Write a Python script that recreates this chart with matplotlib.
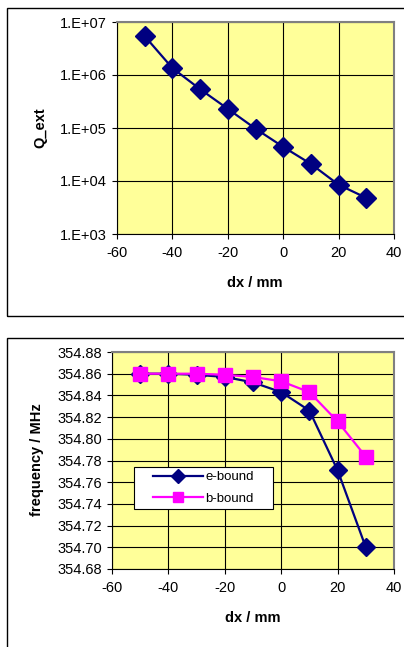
import matplotlib
matplotlib.use("Agg")
import matplotlib.pyplot as plt
from matplotlib.patches import Rectangle
from matplotlib.ticker import FixedLocator, FuncFormatter

plt.rcParams['font.family'] = ['Liberation Sans', 'DejaVu Sans']
plt.rcParams['axes.unicode_minus'] = False

dx = [-50, -40, -30, -20, -10, 0, 10, 20, 30]
q_ext = [5.4e6, 1.35e6, 5.4e5, 2.3e5, 9.7e4, 4.4e4, 2.1e4, 8.5e3, 4.8e3]
e_bound = [354.860, 354.860, 354.859, 354.857, 354.852, 354.843, 354.826, 354.771, 354.700]
b_bound = [354.860, 354.860, 354.860, 354.859, 354.857, 354.853, 354.843, 354.816, 354.7835]
q_ticks = [1e3, 1e4, 1e5, 1e6, 1e7]
q_tick_labels = ['1.E+03', '1.E+04', '1.E+05', '1.E+06', '1.E+07']

W, H = 404, 647
fig = plt.figure(figsize=(W / 100, H / 100), dpi=100)

def fx(px):
    return px / W

def fy(py):
    return 1 - py / H

# outer chart borders
fig.patches.append(Rectangle((fx(7), fy(316)), fx(420) - fx(7), fy(8) - fy(316),
                             transform=fig.transFigure, fill=False, edgecolor='black', lw=1.0))
fig.patches.append(Rectangle((fx(7), fy(660)), fx(420) - fx(7), fy(338) - fy(660),
                             transform=fig.transFigure, fill=False, edgecolor='black', lw=1.0))

navy = '#000080'
magenta = '#FF00FF'
bg = '#FFFF99'
TS = 10.5

def style(ax):
    ax.set_facecolor(bg)
    ax.grid(True, color='black', lw=0.8)
    ax.set_axisbelow(True)
    for s in ['top', 'right']:
        ax.spines[s].set_color('#808080')
        ax.spines[s].set_linewidth(1.5)
    for s in ['left', 'bottom']:
        ax.spines[s].set_color('black')
        ax.spines[s].set_linewidth(0.8)
    ax.tick_params(direction='out', length=3.6, width=0.8, labelsize=TS)
    ax.tick_params(axis='x', pad=5)
    ax.tick_params(axis='y', pad=3.5)
    ax.set_xlim(-60, 40)
    ax.set_xticks([-60, -40, -20, 0, 20, 40])

# top chart
ax1 = fig.add_axes([fx(117), fy(234), fx(394) - fx(117), fy(22) - fy(234)])
style(ax1)
ax1.set_yscale('log')
ax1.set_ylim(1e3, 1e7)
ax1.yaxis.set_major_locator(FixedLocator(q_ticks))
ax1.yaxis.set_major_formatter(FuncFormatter(lambda v, p: q_tick_labels[q_ticks.index(v)] if v in q_ticks else ''))
ax1.yaxis.set_minor_locator(FixedLocator([]))
ax1.plot(dx, q_ext, color=navy, lw=1.6, marker='D', markersize=10, clip_on=False, zorder=3)
ax1.set_xlabel('dx / mm', fontsize=TS, fontweight='bold')
ax1.set_ylabel('Q_ext', fontsize=TS, fontweight='bold')
ax1.xaxis.set_label_coords(fx(255), fy(283), transform=fig.transFigure)
ax1.yaxis.set_label_coords(fx(40), fy(128), transform=fig.transFigure)
ax1.xaxis.label.set_va('center')
ax1.yaxis.label.set_va('center')

# bottom chart
ax2 = fig.add_axes([fx(112), fy(569), fx(394) - fx(112), fy(352) - fy(569)])
style(ax2)
ax2.set_ylim(354.68, 354.88)
ax2.set_yticks([354.68 + 0.02 * i for i in range(11)])
ax2.yaxis.set_major_formatter(FuncFormatter(lambda v, p: f'{v:.2f}'))
ax2.plot(dx, e_bound, color=navy, lw=1.6, marker='D', markersize=9.5, label='e-bound', clip_on=False, zorder=3)
ax2.plot(dx, b_bound, color=magenta, lw=1.6, marker='s', markersize=10, label='b-bound', clip_on=False, zorder=4)
ax2.set_xlabel('dx / mm', fontsize=TS, fontweight='bold')
ax2.set_ylabel('frequency / MHz', fontsize=TS, fontweight='bold')
ax2.xaxis.set_label_coords(fx(253), fy(618), transform=fig.transFigure)
ax2.yaxis.set_label_coords(fx(37), fy(460), transform=fig.transFigure)
ax2.xaxis.label.set_va('center')
ax2.yaxis.label.set_va('center')

# legend frame (drawn separately to get Excel-like padding)
frame = Rectangle((fx(134), fy(509)), fx(273) - fx(134), fy(467) - fy(509),
                  transform=fig.transFigure, facecolor='white', edgecolor='black', lw=0.8,
                  zorder=5, clip_on=False)
ax2.add_patch(frame)
leg = ax2.legend(loc='upper left', bbox_to_anchor=(fx(153), fy(471)), bbox_transform=fig.transFigure,
                 fontsize=9.5, frameon=False, borderpad=0, handlelength=3.8, handletextpad=0.15,
                 labelspacing=0.72, borderaxespad=0, markerscale=0.75)
leg.set_zorder(6)

fig.savefig('out.png', dpi=100)
